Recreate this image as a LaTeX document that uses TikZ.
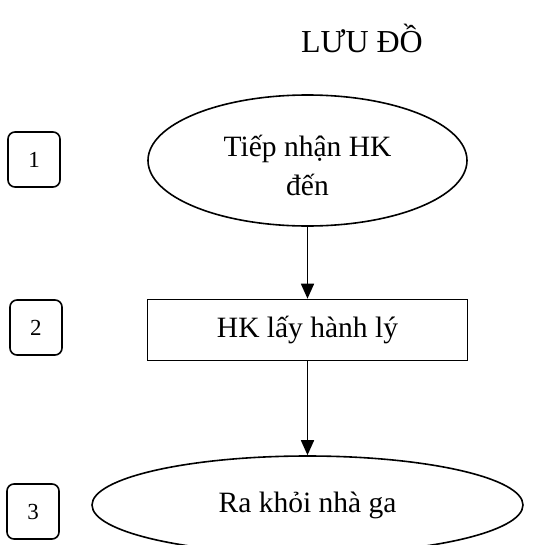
\documentclass[tikz,border=0pt]{standalone}
\usepackage{fontspec}
\setmainfont{Liberation Serif}
\usetikzlibrary{shapes.geometric,arrows.meta}
\begin{document}
\begin{tikzpicture}[x=1pt,y=-1pt,
  lw/.style={line width=1.6pt},
  numbox/.style={draw,lw,rounded corners=7pt,minimum width=52pt,minimum height=55pt,inner sep=0pt,font=\fontsize{23}{27}\selectfont},
  flowell/.style={draw,lw,ellipse,inner sep=0pt},
  flowtext/.style={font=\fontsize{29.5}{39}\selectfont,align=center},
  flowbox/.style={draw,lw,rectangle,inner sep=0pt,font=\fontsize{29.5}{36}\selectfont},
  flowarrow/.style={lw,-{Triangle[length=15pt,width=13pt]}}]
\useasboundingbox (0,0) rectangle (549,544);
\clip (0,0) rectangle (549,544);
\node[font=\fontsize{32}{38}\selectfont] (title) at (362,38) {LƯU ĐỒ};
\node[numbox] (n1) at (34,159.5) {1};
\node[numbox] (n2) at (36,327.5) {2};
\node[numbox] (n3) at (33,511.5) {3};
\node[flowell,minimum width=319pt,minimum height=131pt] (e1) at (307.5,160.5) {};
\node[flowtext] (t1) at (307.5,165) {Tiếp nhận HK\\đến};
\node[flowbox,minimum width=320pt,minimum height=61pt] (b2) at (307.5,330) {HK lấy hành lý};
\node[flowell,minimum width=431pt,minimum height=98pt] (e3) at (307.5,505) {};
\node[flowtext] (t3) at (307.5,505) {Ra khỏi nhà ga};
\draw[flowarrow] (e1.south) -- (b2.north);
\draw[flowarrow] (b2.south) -- (e3.north);
\end{tikzpicture}
\end{document}
